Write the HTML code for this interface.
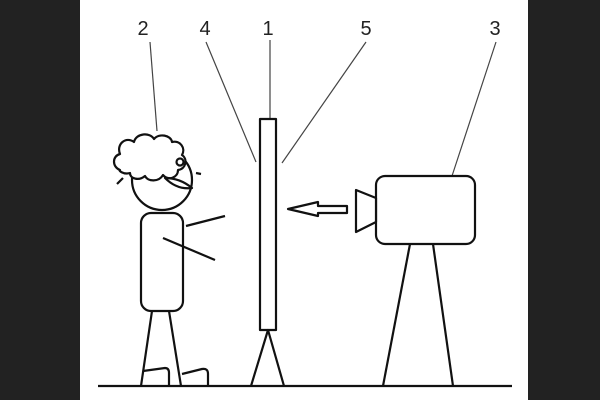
<html><body style="margin:0;background:#fff">
<svg width="600" height="400" xmlns="http://www.w3.org/2000/svg" style="display:block">
<rect width="600" height="400" fill="#fff"/>
<rect x="0" y="0" width="80" height="400" fill="#222"/>
<rect x="528" y="0" width="72" height="400" fill="#222"/>
<g font-family="Liberation Sans, sans-serif" font-size="20" text-anchor="middle" fill="#222">
<text x="143" y="35">2</text><text x="205" y="35">4</text><text x="268" y="35">1</text><text x="366" y="35">5</text><text x="495" y="35">3</text>
</g>
<g stroke="#444" stroke-width="1.2" fill="none">
<line x1="150" y1="42" x2="157" y2="131"/>
<line x1="206" y1="42" x2="256" y2="162"/>
<line x1="270" y1="40" x2="270" y2="119"/>
<line x1="366" y1="42" x2="282" y2="163"/>
<line x1="496" y1="42" x2="452" y2="176"/>
</g>
<g stroke="#111" stroke-width="2.2" fill="none" stroke-linejoin="round">
<line x1="98" y1="386" x2="512" y2="386"/>
<rect x="260" y="119" width="16" height="211" fill="#fff"/>
<polyline points="251,386 268,330 284,386"/>
<rect x="376" y="176" width="99" height="68" rx="9" fill="#fff"/>
<polygon points="356,190 376,198 376,222 356,232" fill="#fff"/>
<polygon points="288,209 318,202 318,206 347,206 347,213 318,213 318,216"/>
<line x1="410" y1="244" x2="383" y2="386"/>
<line x1="433" y1="244" x2="453" y2="386"/>
<circle cx="162" cy="180" r="30" fill="#fff"/>
<path d="M120,170 c-8,-3 -8,-14 0,-16 c-4,-10 6,-18 14,-12 c2,-9 16,-10 20,-3 c5,-6 17,-4 18,3 c8,-2 14,6 10,13 c6,4 4,14 -4,15 c0,8 -10,11 -15,5 c-4,7 -15,7 -18,1 c-6,5 -15,3 -15,-3 c-7,2 -12,-3 -10,-3 z" fill="#fff"/>
<path d="M123,178 l-6,6"/>
<circle cx="180" cy="162" r="3.5"/>
<line x1="196" y1="173" x2="201" y2="174"/>
<path d="M165,178 q15,0 27,10 q-15,2 -27,-10 z"/>
<rect x="141" y="213" width="42" height="98" rx="10" fill="#fff"/>
<line x1="186" y1="226" x2="225" y2="216"/>
<line x1="163" y1="238" x2="215" y2="260"/>
<line x1="152" y1="311" x2="141" y2="386"/>
<line x1="169" y1="311" x2="181" y2="386"/>
<path d="M143,371 l22,-3 q4,0 4,5 l0,13"/>
<path d="M182,374 l20,-5 q6,-1 6,5 l0,12"/>
</g>
</svg>
</body></html>
